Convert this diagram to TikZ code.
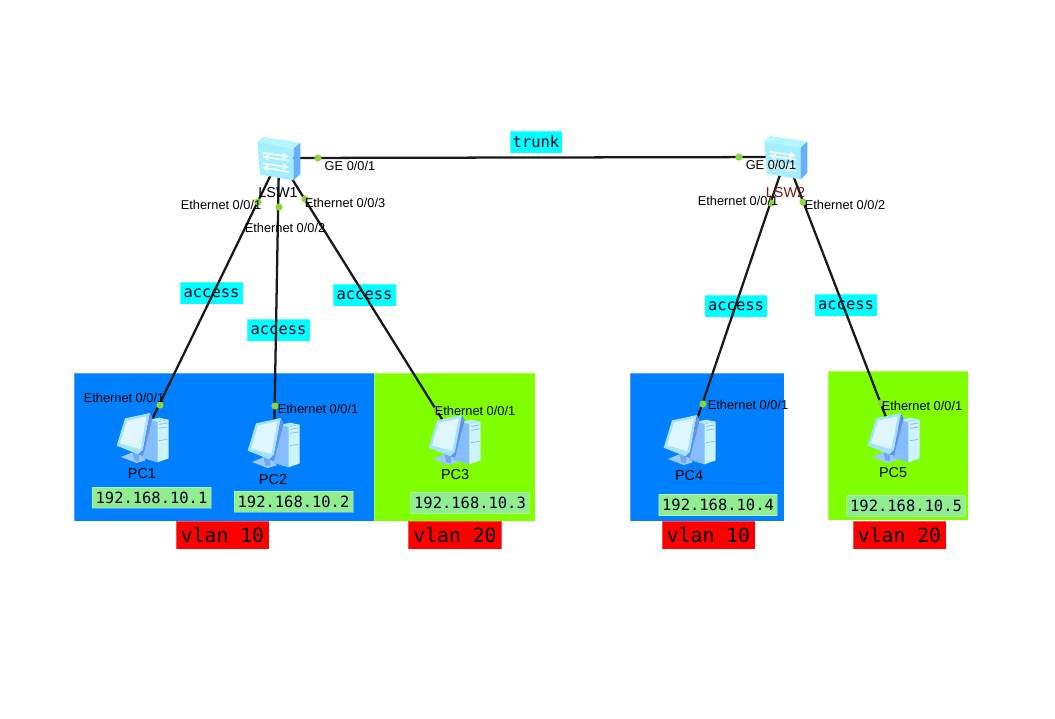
\documentclass[tikz,border=0pt]{standalone}
\usepackage{fontspec}
\setmainfont{Liberation Sans}
\setmonofont{DejaVu Sans Mono}
\definecolor{vblue}{HTML}{0080FF}
\definecolor{vgreen}{HTML}{80FF00}
\definecolor{ipgreen}{HTML}{90EE90}
\definecolor{dotgreen}{HTML}{8CD63C}
\definecolor{lblcyan}{HTML}{00FFFF}
\definecolor{darkred}{HTML}{7A1414}
\definecolor{pcbase}{HTML}{9CCBFF}
\definecolor{pcneck}{HTML}{6FA8F5}
\definecolor{pcside}{HTML}{86BDFF}
\definecolor{pcfront}{HTML}{CDF3FF}
\definecolor{pctop}{HTML}{B6E9FF}
\definecolor{pcframe}{HTML}{A6E2FF}
\definecolor{pcscreen}{HTML}{DFF6FF}
\definecolor{pcedge}{HTML}{5F93EE}
\definecolor{swtop}{HTML}{B4F6FF}
\definecolor{swfront}{HTML}{A4EEFF}
\definecolor{swside}{HTML}{66AEFF}
\tikzset{
  region/.style={draw=white,draw opacity=.3,line width=.5pt,inner sep=0pt},
  tag/.style={inner sep=0pt,font=\ttfamily\fontsize{11.6}{13}\selectfont,text=black!85!blue},
  link/.style={tag,fill=lblcyan,draw=white,draw opacity=.3,line width=.4pt,minimum height=16.5pt,minimum width=47pt},
  trunktag/.style={link,minimum width=39pt},
  ip/.style={tag,fill=ipgreen,draw=white,draw opacity=.3,line width=.4pt,minimum width=89pt,minimum height=16pt},
  vlan/.style={tag,fill=red,draw=white,draw opacity=.3,line width=.4pt,minimum width=70pt,minimum height=21pt,
    font=\ttfamily\fontsize{14.8}{16}\selectfont,text=black},
  wire/.style={draw=black!90,line width=1.7pt},
  port/.style={circle,fill=dotgreen,inner sep=0pt,minimum size=5.4pt},
  eth/.style={inner sep=0pt,font=\fontsize{9.6}{11}\selectfont,text=black},
  devname/.style={inner sep=0pt,font=\fontsize{10.8}{12}\selectfont,text=black},
  device/.style={inner sep=0pt,minimum size=30pt},
  pcicon/.pic={
    \begin{scope}[x=.25pt,y=-.25pt,shift={(-204,-189)}]
      % base
      \fill[pcbase] (138,246)--(172,232)--(205,244)--(212,256)--(185,264)--cycle;
      \fill[pcneck] (172,232)--(192,236)--(192,258)--(178,256)--cycle;
      % tower side
      \fill[pcside] (222,135)--(247,141)--(247,262)--(200,248)--cycle;
      % tower front
      \fill[pcfront] (247,141)--(281,134)--(281,250)--(247,262)--cycle;
      \fill[pctop] (222,135)--(252,128)--(281,134)--(247,141)--cycle;
      \draw[pcside,line width=.6pt] (252,148)--(277,144) (252,160)--(277,156) (252,197)--(277,193);
      % monitor
      \fill[pcframe] (125,212)--(150,130)--(225,114)--(204,225)--(190,238)--cycle;
      \fill[pcscreen] (135,205)--(156,137)--(215,124)--(196,222)--cycle;
      \fill[pcedge] (225,114)--(233,130)--(204,242)--(190,238)--(204,225)--cycle;
    \end{scope}
  },
  swicon/.pic={
    \begin{scope}[x=.25pt,y=-.25pt,shift={(-87,-84)}]
      \fill[swtop] (22,36)--(40,21)--(151,38)--(131,56)--cycle;
      \fill[swfront] (22,36)--(131,56)--(131,151)--(30,134)--cycle;
      \fill[swside] (131,56)--(151,38)--(151,131)--(131,151)--cycle;
      \begin{scope}[draw=white,line width=1.1pt,-stealth]
        \draw (38,68)--(116,80);
        \draw (116,92)--(38,80);
        \draw (38,100)--(116,112);
        \draw (116,126)--(38,112);
      \end{scope}
    \end{scope}
  }
}
\begin{document}
\begin{tikzpicture}[x=.75pt,y=-.75pt]
\useasboundingbox (0,0) rectangle (1055,718);
\fill[white] (0,0) rectangle (1055,718);
% vlan regions
\filldraw[region,fill=vblue] (74,373) rectangle (374,521);
\filldraw[region,fill=vgreen] (374,373) rectangle (535,521);
\filldraw[region,fill=vblue] (630,373) rectangle (784,521);
\filldraw[region,fill=vgreen] (828,371) rectangle (968,520);
% link tags
\node[trunktag] (t0) at (536,142) {trunk};
\node[link] (a1) at (211.5,293) {access};
\node[link] (a2) at (278.5,330) {access};
\node[link] (a3) at (364.5,295) {access};
\node[link] (a4) at (736,306) {access};
\node[link] (a5) at (846,305) {access};
% devices
\node[device] (lsw1) at (279,158) {};
\node[device] (lsw2) at (786,157) {};
\node[device] (pc1) at (143,438) {};
\node[device] (pc2) at (274,443) {};
\node[device] (pc3) at (455,440) {};
\node[device] (pc4) at (690,440) {};
\node[device] (pc5) at (894,438) {};
% connectors
\draw[wire] (lsw1.center) -- (lsw2.center);
\draw[wire] (lsw1.center) -- (pc1.center);
\draw[wire] (lsw1.center) -- (pc2.center);
\draw[wire] (lsw1.center) -- (pc3.center);
\draw[wire] (lsw2.center) -- (pc4.center);
\draw[wire] (lsw2.center) -- (pc5.center);
% ports
\node[port] (p1) at (318,158) {};
\node[port] (p2) at (739,157) {};
\node[port] (p3) at (258,202) {};
\node[port] (p4) at (279,207) {};
\node[port] (p5) at (305,199) {};
\node[port] (p6) at (160,405) {};
\node[port] (p7) at (275,406) {};
\node[port] (p8) at (437,410) {};
\node[port] (p9) at (703,404) {};
\node[port] (p10) at (881,403) {};
\node[port] (p11) at (771,203) {};
\node[port] (p12) at (803,202) {};
% icons
\pic at (lsw1.center) {swicon};
\pic at (lsw2.center) {swicon};
\pic at (pc1.center) {pcicon};
\pic at (pc2.center) {pcicon};
\pic at (pc3.center) {pcicon};
\pic at (pc4.center) {pcicon};
\pic at (pc5.center) {pcicon};
% device names
\node[devname] (n1) at (278,193) {LSW1};
\node[devname,text=darkred] (n2) at (785.5,193) {LSW2};
\node[devname] (n3) at (142,474) {PC1};
\node[devname] (n4) at (273,480) {PC2};
\node[devname] (n5) at (455,475) {PC3};
\node[devname] (n6) at (689,476) {PC4};
\node[devname] (n7) at (893,473) {PC5};
% interface labels
\node[eth] (e1) at (350,166) {GE 0/0/1};
\node[eth] (e2) at (771,165) {GE 0/0/1};
\node[eth] (e3) at (221,205) {Ethernet 0/0/1};
\node[eth] (e4) at (285,228) {Ethernet 0/0/2};
\node[eth] (e5) at (345,203) {Ethernet 0/0/3};
\node[eth] (e6) at (738,201) {Ethernet 0/0/1};
\node[eth] (e7) at (845,205) {Ethernet 0/0/2};
\node[eth] (e8) at (124,398) {Ethernet 0/0/1};
\node[eth] (e9) at (318,409) {Ethernet 0/0/1};
\node[eth] (e10) at (475,411) {Ethernet 0/0/1};
\node[eth] (e11) at (748,405) {Ethernet 0/0/1};
\node[eth] (e12) at (922,406) {Ethernet 0/0/1};
% addresses
\node[ip] (i1) at (151.5,497.5) {192.168.10.1};
\node[ip] (i2) at (293.5,501.5) {192.168.10.2};
\node[ip] (i3) at (470,503) {192.168.10.3};
\node[ip] (i4) at (718,505) {192.168.10.4};
\node[ip] (i5) at (906,506) {192.168.10.5};
% vlan tags
\node[vlan] (v1) at (222.5,535) {vlan 10};
\node[vlan] (v2) at (455,535) {vlan 20};
\node[vlan] (v3) at (708.5,535) {vlan 10};
\node[vlan] (v4) at (899.5,535) {vlan 20};
\end{tikzpicture}
\end{document}
